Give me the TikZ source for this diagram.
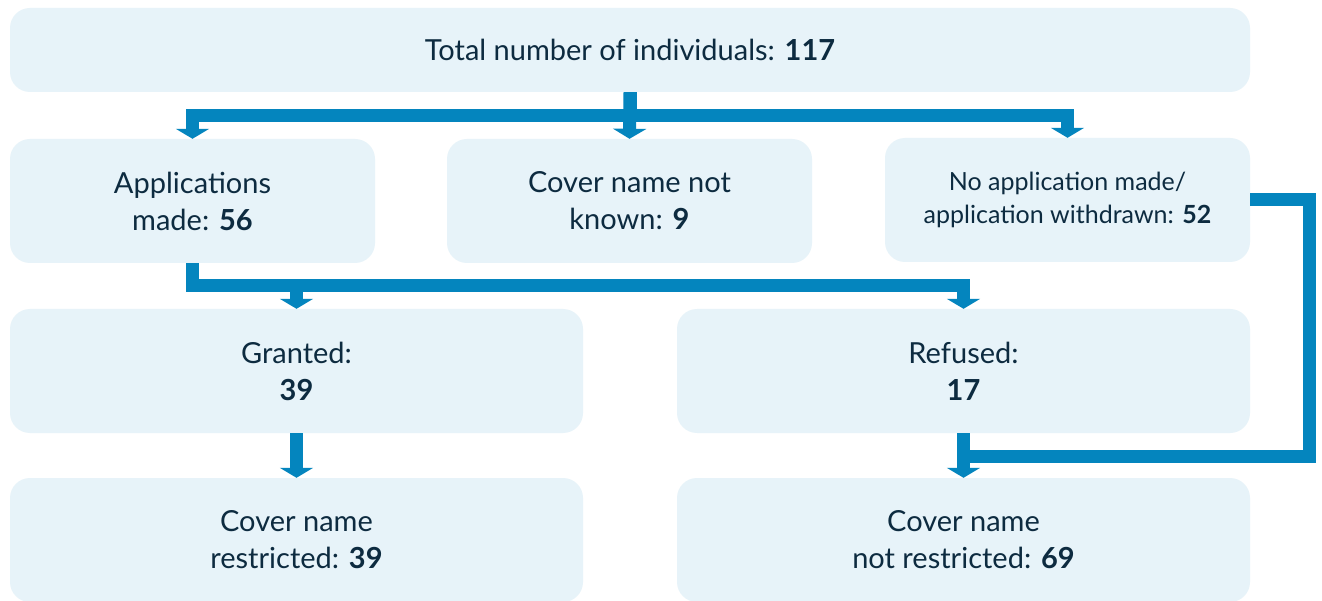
\documentclass[tikz,border=0pt]{standalone}
\usepackage{fontspec}
\setmainfont{Lato}
\usetikzlibrary{arrows.meta,calc}
\definecolor{boxfill}{RGB}{231,243,249}
\definecolor{conncol}{RGB}{4,133,190}
\definecolor{txt}{RGB}{13,43,64}
\begin{document}
\begin{tikzpicture}[x=1pt,y=-1pt,
  box/.style={fill=boxfill,draw=none,rounded corners=20pt,align=center,text=txt,
    font=\fontsize{29}{37}\selectfont,inner sep=0pt},
  smallbox/.style={box,font=\fontsize{25}{33}\selectfont},
  conn/.style={draw=conncol,line width=13pt},
  arr/.style={conn,-{Triangle[width=33pt,length=10pt]}}]
\useasboundingbox (0,0) rectangle (1322,601);
\fill[white] (0,0) rectangle (1322,601);
\node[box,minimum width=1240pt,minimum height=84pt] (top) at (630,50) {Total number of individuals: \textbf{117}};
\node[box,minimum width=365pt,minimum height=124pt] (app) at (192.5,201) {Applications\\made: \textbf{56}};
\node[box,minimum width=365pt,minimum height=124pt] (cover) at (629.5,201) {Cover name not\\known: \textbf{9}};
\node[smallbox,minimum width=365pt,minimum height=124pt] (noapp) at (1067.5,200) {No application made/\\application withdrawn: \textbf{52}};
\node[box,minimum width=573pt,minimum height=124pt] (granted) at (296.5,371) {Granted:\\\textbf{39}};
\node[box,minimum width=573pt,minimum height=124pt] (refused) at (963.5,371) {Refused:\\\textbf{17}};
\node[box,minimum width=573pt,minimum height=124pt] (restr) at (296.5,540) {Cover name\\restricted: \textbf{39}};
\node[box,minimum width=573pt,minimum height=124pt] (notrestr) at (963.5,540) {Cover name\\not restricted: \textbf{69}};
% top tree
\draw[arr] (top.south) -- ++(0,23.5) -| (app.north);
\draw[arr] (top.south) -- (cover.north);
\draw[arr] (top.south) -- ++(0,23.5) -| (noapp.north);
% applications tree
\draw[arr] (app.south) -- ++(0,22) -| (granted.north);
\draw[arr] (app.south) -- ++(0,22) -| (refused.north);
% granted to restricted
\draw[arr] (granted.south) -- (restr.north);
% refused and no application to not restricted
\draw[conn] (noapp.east) -- ++(59,0) |- ($(refused.south)+(0,23)$);
\draw[arr] (refused.south) -- (notrestr.north);
\end{tikzpicture}
\end{document}
